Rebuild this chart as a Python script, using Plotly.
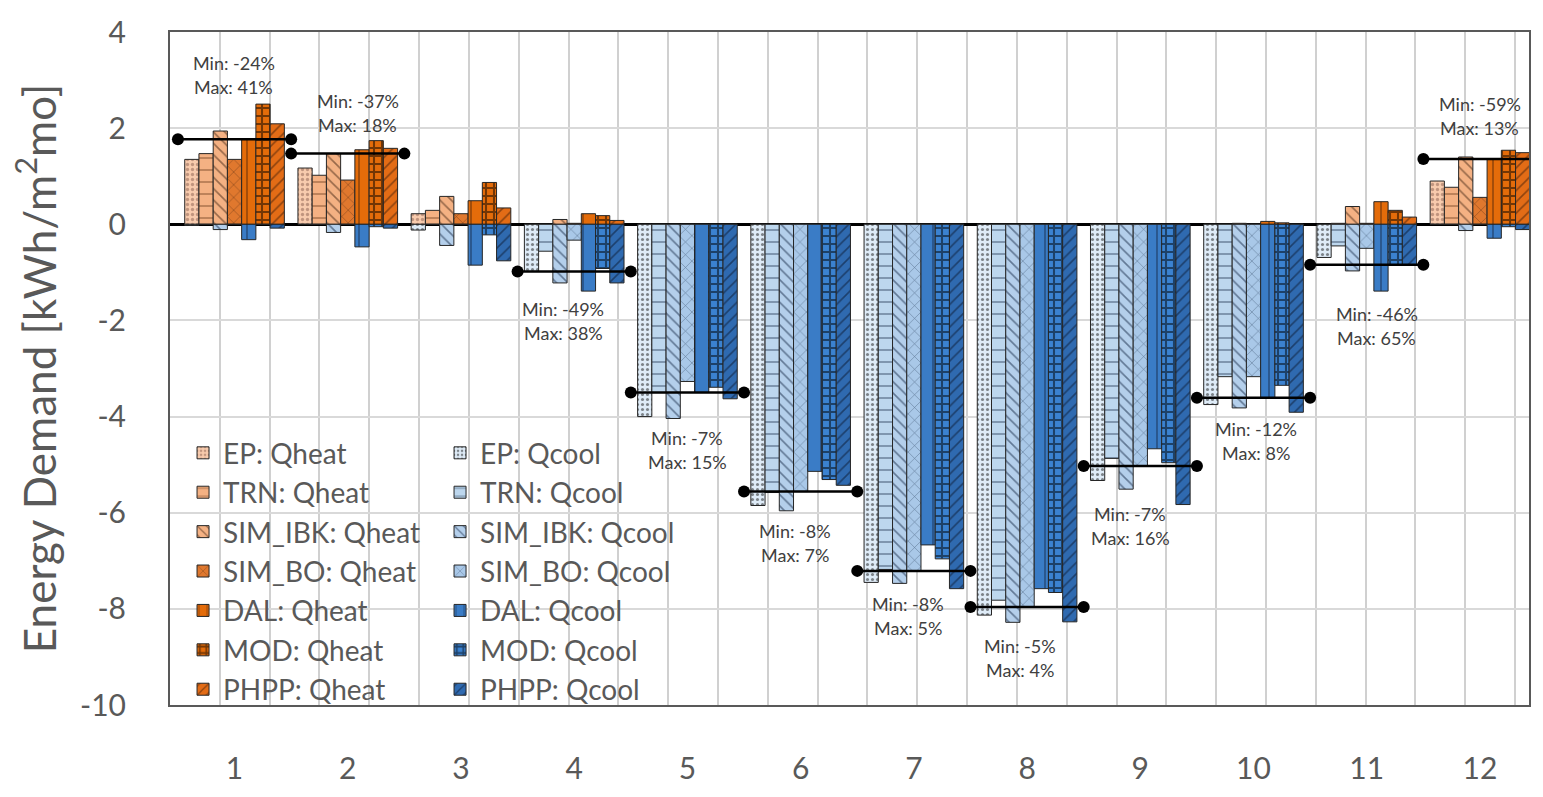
import statistics
import plotly.graph_objects as go

# ---- data -----------------------------------------------------------------
months = list(range(1, 13))
month_labels = [str(m) for m in months]
tools = ["EP", "TRN", "SIM_IBK", "SIM_BO", "DAL", "MOD", "PHPP"]

y_tick_vals = [4, 2, 0, -2, -4, -6, -8, -10]
y_tick_text = ["4", "2", "0", "-2", "-4", "-6", "-8", "-10"]

# monthly heating demand [kWh/m2mo]
heat_ep      = [1.35, 1.17, 0.22, 0.00, 0, 0, 0, 0, 0, 0.00, 0.00, 0.90]
heat_trn     = [1.47, 1.02, 0.29, 0.00, 0, 0, 0, 0, 0, 0.00, 0.02, 0.77]
heat_sim_ibk = [1.94, 1.47, 0.58, 0.10, 0, 0, 0, 0, 0, 0.02, 0.37, 1.40]
heat_sim_bo  = [1.35, 0.92, 0.22, 0.02, 0, 0, 0, 0, 0, 0.00, 0.02, 0.56]
heat_dal     = [1.77, 1.55, 0.49, 0.22, 0, 0, 0, 0, 0, 0.06, 0.47, 1.36]
heat_mod     = [2.50, 1.74, 0.87, 0.18, 0, 0, 0, 0, 0, 0.03, 0.29, 1.54]
heat_phpp    = [2.09, 1.58, 0.34, 0.08, 0, 0, 0, 0, 0, 0.00, 0.15, 1.49]

# monthly cooling demand [kWh/m2mo] (negative by convention)
cool_ep      = [-0.02, 0.00, -0.12, -0.98, -4.00, -5.85, -7.45, -8.13, -5.33, -3.75, -0.69, 0.00]
cool_trn     = [0.00, 0.00, 0.00, -0.56, -3.50, -5.58, -7.18, -7.82, -4.87, -3.17, -0.45, 0.00]
cool_sim_ibk = [-0.11, -0.17, -0.44, -1.22, -4.04, -5.96, -7.47, -8.28, -5.51, -3.82, -0.97, -0.13]
cool_sim_bo  = [0.00, 0.00, 0.00, -0.33, -3.27, -5.56, -7.21, -7.96, -5.03, -3.17, -0.50, 0.00]
cool_dal     = [-0.32, -0.47, -0.85, -1.39, -3.50, -5.14, -6.67, -7.58, -4.67, -3.61, -1.39, -0.29]
cool_mod     = [0.00, -0.05, -0.22, -0.92, -3.39, -5.31, -6.96, -7.66, -4.96, -3.35, -0.84, -0.05]
cool_phpp    = [-0.08, -0.08, -0.76, -1.22, -3.63, -5.43, -7.58, -8.27, -5.83, -3.91, -0.84, -0.11]

# which demand the median line of each month refers to
ref_basis = ["heat", "heat", None, "cool", "cool", "cool", "cool", "cool",
             "cool", "cool", "cool", "heat"]
min_pct = [-24, -37, None, -49, -7, -8, -8, -5, -7, -12, -46, -59]
max_pct = [41, 18, None, 38, 15, 7, 5, 4, 16, 8, 65, 13]

heat = dict(zip(tools, [heat_ep, heat_trn, heat_sim_ibk, heat_sim_bo,
                        heat_dal, heat_mod, heat_phpp]))
cool = dict(zip(tools, [cool_ep, cool_trn, cool_sim_ibk, cool_sim_bo,
                        cool_dal, cool_mod, cool_phpp]))

# ---- styles ---------------------------------------------------------------
FONT = "Lato, 'Open Sans', sans-serif"
GREY = "#595959"

heat_style = {
    "EP":      dict(color="#F8CBAD", shape=".",  fg="#8a6050", size=5, sol=0.35),
    "TRN":     dict(color="#F4B183", shape="-",  fg="#5a2d10", size=12, sol=0.12),
    "SIM_IBK": dict(color="#F4B183", shape="\\", fg="#3a2010", size=8, sol=0.2),
    "SIM_BO":  dict(color="#E0782E", shape="x",  fg="#2a1408", size=9, sol=0.12),
    "DAL":     dict(color="#E46C0A", shape="|",  fg="#2a1408", size=14, sol=0.1),
    "MOD":     dict(color="#E46C0A", shape="+",  fg="#000000", size=8, sol=0.45),
    "PHPP":    dict(color="#E36C16", shape="/",  fg="#3a1a08", size=8, sol=0.2),
}
cool_style = {
    "EP":      dict(color="#DEEBF7", shape=".",  fg="#1a1a1a", size=5, sol=0.3),
    "TRN":     dict(color="#BDD7EE", shape="-",  fg="#10223f", size=12, sol=0.12),
    "SIM_IBK": dict(color="#B4CFEB", shape="\\", fg="#10223f", size=8, sol=0.2),
    "SIM_BO":  dict(color="#A9C8E8", shape="x",  fg="#10223f", size=9, sol=0.12),
    "DAL":     dict(color="#3A7CC6", shape="|",  fg="#0a1428", size=14, sol=0.1),
    "MOD":     dict(color="#3B82D0", shape="+",  fg="#000000", size=8, sol=0.45),
    "PHPP":    dict(color="#2F6AB0", shape="/",  fg="#0a1428", size=8, sol=0.2),
}

# label placement around each median line (pixels; + = down / right)
label_dy = [-64, -41, None, 50, 57, 51, 45, 51, 60, 43, 61, -43]
label_dx = [-1, 10, None, -11, 0, -6, -6, -7, -10, 2, 10, 0]

fig = go.Figure()


def add_bars(values, style, name, legend):
    fig.add_trace(go.Bar(
        x=months, y=values, name=name, offsetgroup=name.split(":")[0],
        legend=legend,
        marker=dict(
            color=style["color"],
            line=dict(color="#262626", width=1),
            pattern=dict(shape=style["shape"], fgcolor=style["fg"],
                         size=style["size"], solidity=style["sol"],
                         fillmode="overlay"),
        ),
    ))


for t in tools:
    add_bars(heat[t], heat_style[t], f"{t}: Qheat", "legend")
for t in tools:
    add_bars(cool[t], cool_style[t], f"{t}: Qcool", "legend2")

# median reference line per month with min / max deviation labels
annotations = []
for i, m in enumerate(months):
    basis = ref_basis[i]
    if basis is None:
        continue
    src = heat if basis == "heat" else cool
    med = statistics.median(src[t][i] for t in tools)
    fig.add_trace(go.Scatter(
        x=[m - 0.5, m + 0.5], y=[med, med], mode="lines+markers",
        line=dict(color="black", width=2.5),
        marker=dict(color="black", size=12),
        cliponaxis=False, showlegend=False, hoverinfo="skip",
    ))
    for text, off in ((f"Min: {min_pct[i]}%", -12), (f"Max: {max_pct[i]}%", 12)):
        annotations.append(dict(
            x=m, y=med, xref="x", yref="y", text=text, showarrow=False,
            xshift=label_dx[i], yshift=-(label_dy[i] + off),
            font=dict(family=FONT, size=18, color="#404040"),
        ))

fig.update_layout(
    width=1543, height=797,
    margin=dict(l=170, r=14, t=24, b=73),
    paper_bgcolor="white", plot_bgcolor="white",
    barmode="group", bargap=0.12, bargroupgap=0,
    font=dict(family=FONT, color=GREY),
    annotations=annotations,
    legend=dict(x=0.0096, y=0.4114, xanchor="left", yanchor="top",
                bgcolor="rgba(0,0,0,0)", font=dict(size=28, color=GREY),
                tracegroupgap=0),
    legend2=dict(x=0.1987, y=0.4114, xanchor="left", yanchor="top",
                 bgcolor="rgba(0,0,0,0)", font=dict(size=28, color=GREY),
                 tracegroupgap=0),
)

fig.update_xaxes(
    range=[0.43, 12.433], tickmode="array", tickvals=months,
    ticktext=month_labels, showgrid=False, zeroline=False,
    tickfont=dict(size=30, color=GREY), ticks="", ticklabelstandoff=36,
    showline=True, linecolor=GREY, linewidth=2, mirror=True,
    minor=dict(tick0=0.43, dtick=0.44, showgrid=True,
               gridcolor="#d0d0d0", gridwidth=2, ticks=""),
)
fig.update_yaxes(
    range=[-10, 4], tickmode="array", tickvals=y_tick_vals,
    ticktext=y_tick_text, showgrid=True, gridcolor="#d9d9d9", gridwidth=2,
    zeroline=True, zerolinecolor="black", zerolinewidth=2.5,
    tickfont=dict(size=30, color=GREY), ticks="", ticklabelstandoff=36,
    showline=True, linecolor=GREY, linewidth=2, mirror=True,
    title=dict(text="Energy Demand [kWh/m<sup>2</sup>mo]",
               font=dict(size=44, color=GREY), standoff=10),
)

fig.write_html("out.html")
